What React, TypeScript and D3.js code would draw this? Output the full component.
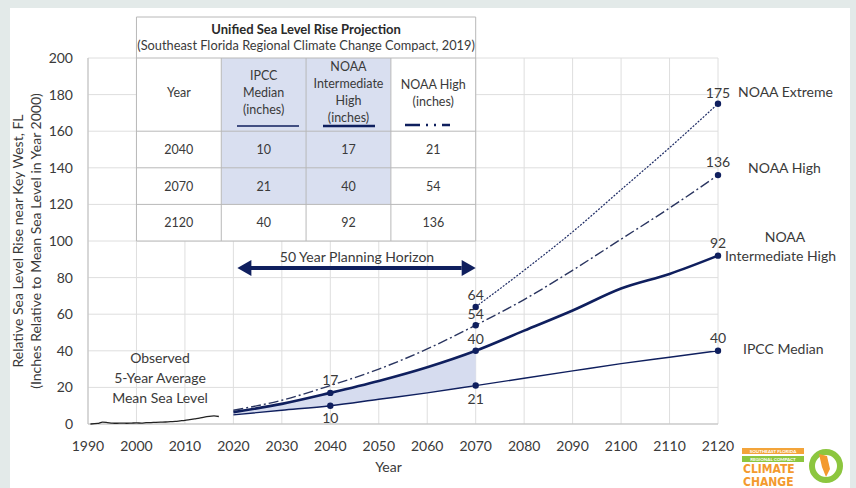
import React from "react";
import * as d3 from "d3";

const years = [2020, 2030, 2040, 2050, 2060, 2070, 2080, 2090, 2100, 2110, 2120];
const ipccMedian = [5, 7.5, 10, 13.5, 17, 21, 25, 29, 33, 36.5, 40];
const noaaIntHigh = [6.5, 11, 17, 23.5, 31, 40, 51, 62, 74, 82, 92];
const noaaHigh = [7.5, 13, 21, 30, 41, 54, 68, 84, 101, 118, 136];
const extremeYears = [2070, 2080, 2090, 2100, 2110, 2120];
const noaaExtreme = [64, 84, 105, 128, 151, 175];

const obsYears = [1990.5, 1992, 1993, 1994, 1995, 1996, 1997, 1998, 1999, 2000, 2001, 2002, 2003, 2004, 2005, 2006, 2007, 2008, 2009, 2010, 2011, 2012, 2013, 2014, 2015, 2016, 2017];
const obsLevel = [0, 0.3, 1.0, 0.8, 0.5, 0.4, 0.5, 0.4, 0.5, 0.6, 0.5, 0.7, 0.8, 0.9, 1.0, 1.1, 1.3, 1.4, 1.7, 2.0, 2.4, 2.8, 3.2, 3.8, 4.2, 4.4, 4.1];

const xTicks = d3.range(1990, 2121, 10);
const yTicks = d3.range(0, 201, 20);

const tableRows = [
  ["2040", "10", "17", "21"],
  ["2070", "21", "40", "54"],
  ["2120", "40", "92", "136"],
];

const NAVY = "#0f1f5e";
const FONT = "Lato, 'Open Sans', sans-serif";
const TXT = "#3a3a3a";

const App = () => {
  const x = d3.scaleLinear().domain([1990, 2120]).range([88, 718]);
  const y = d3.scaleLinear().domain([0, 200]).range([424, 58]);

  const line = d3
    .line<[number, number]>()
    .x((d) => x(d[0]))
    .y((d) => y(d[1]))
    .curve(d3.curveMonotoneX);
  const pair = (xs: number[], vs: number[]) => xs.map((v, i) => [v, vs[i]] as [number, number]);

  const shadeIdx = years.filter((yr) => yr <= 2070).map((_, i) => i);
  const area = d3
    .area<number>()
    .x((i) => x(years[i]))
    .y0((i) => y(ipccMedian[i]))
    .y1((i) => y(noaaIntHigh[i]))
    .curve(d3.curveMonotoneX);

  // table geometry tied to the chart grid
  const colX = [x(2000), x(2017.5), x(2035), x(2052.5), x(2070)];
  const rowY = [17, y(200), y(160), y(140), y(120), y(100)];

  const dot = (yr: number, v: number, key: string) => (
    <circle key={key} cx={x(yr)} cy={y(v)} r={3.2} fill={NAVY} />
  );

  const ix = (yr: number) => years.indexOf(yr);

  return (
    <svg width={856} height={488} style={{ position: "absolute", left: 0, top: 0, fontFamily: FONT }}>
      <rect x={0} y={0} width={856} height={488} fill="#e3eae9" />
      <rect x={10} y={8} width={840} height={480} fill="#ffffff" />

      {/* grid */}
      {xTicks.map((t) => (
        <line key={"gx" + t} x1={x(t)} x2={x(t)} y1={y(200)} y2={y(0)} stroke="#dedede" strokeWidth={1} />
      ))}
      {yTicks.map((t) => (
        <line key={"gy" + t} x1={x(1990)} x2={x(2120)} y1={y(t)} y2={y(t)} stroke="#dedede" strokeWidth={1} />
      ))}
      <line x1={x(1990)} x2={x(1990)} y1={y(200)} y2={y(0)} stroke="#bfbfbf" />
      <line x1={x(1990)} x2={x(2120)} y1={y(0)} y2={y(0)} stroke="#bfbfbf" />

      {/* axis labels */}
      {yTicks.map((t) => (
        <text key={"yl" + t} x={73} y={y(t) + 5} textAnchor="end" fontSize={14} fill={TXT}>
          {t}
        </text>
      ))}
      {xTicks.map((t) => (
        <text key={"xl" + t} x={x(t)} y={451} textAnchor="middle" fontSize={14} fill={TXT}>
          {t}
        </text>
      ))}
      <text x={x(2052)} y={472} textAnchor="middle" fontSize={14} fill={TXT}>
        Year
      </text>
      <text transform={`translate(23,241) rotate(-90)`} textAnchor="middle" fontSize={14} fill={TXT}>
        Relative Sea Level Rise near Key West, FL
      </text>
      <text transform={`translate(41,241) rotate(-90)`} textAnchor="middle" fontSize={14} fill={TXT}>
        (Inches Relative to Mean Sea Level in Year 2000)
      </text>

      {/* table */}
      <g fontSize={12.5} fill={TXT}>
        <rect x={colX[1]} y={rowY[1]} width={colX[3] - colX[1]} height={rowY[4] - rowY[1]} fill="#d9dff0" />
        <rect x={colX[0]} y={rowY[0]} width={colX[4] - colX[0]} height={rowY[1] - rowY[0]} fill="#fff" />
        <rect x={colX[0]} y={rowY[4]} width={colX[4] - colX[0]} height={rowY[5] - rowY[4]} fill="#fff" />
        <rect x={colX[0]} y={rowY[1]} width={colX[1] - colX[0]} height={rowY[4] - rowY[1]} fill="#fff" />
        <rect x={colX[3]} y={rowY[1]} width={colX[4] - colX[3]} height={rowY[4] - rowY[1]} fill="#fff" />
        {rowY.map((ry, i) => (
          <line key={"tr" + i} x1={colX[0]} x2={colX[4]} y1={ry} y2={ry} stroke="#b8b8b8" />
        ))}
        {colX.map((cx, i) => (
          <line
            key={"tc" + i}
            x1={cx}
            x2={cx}
            y1={i === 0 || i === 4 ? rowY[0] : rowY[1]}
            y2={rowY[5]}
            stroke="#b8b8b8"
          />
        ))}
        <text x={(colX[0] + colX[4]) / 2} y={34} textAnchor="middle" fontWeight="bold" fontSize={13} fill="#2a2a2a">
          Unified Sea Level Rise Projection
        </text>
        <text x={(colX[0] + colX[4]) / 2} y={50} textAnchor="middle" fontSize={12.8}>
          (Southeast Florida Regional Climate Change Compact, 2019)
        </text>
        <text x={(colX[0] + colX[1]) / 2} y={97} textAnchor="middle">Year</text>
        {["IPCC", "Median", "(inches)"].map((s, i) => (
          <text key={"h1" + i} x={(colX[1] + colX[2]) / 2} y={80 + i * 17} textAnchor="middle">{s}</text>
        ))}
        {["NOAA", "Intermediate", "High", "(inches)"].map((s, i) => (
          <text key={"h2" + i} x={(colX[2] + colX[3]) / 2} y={71 + i * 17} textAnchor="middle">{s}</text>
        ))}
        {["NOAA High", "(inches)"].map((s, i) => (
          <text key={"h3" + i} x={(colX[3] + colX[4]) / 2} y={89 + i * 17} textAnchor="middle">{s}</text>
        ))}
        <line x1={237} x2={299} y1={126} y2={126} stroke={NAVY} strokeWidth={1.3} />
        <line x1={323} x2={375} y1={126} y2={126} stroke={NAVY} strokeWidth={2.6} />
        <line x1={405} x2={463} y1={125} y2={125} stroke={NAVY} strokeWidth={2.4} strokeDasharray="15 6 2 6 2 6 8" />
        {tableRows.map((r, ri) =>
          r.map((c, ci) => (
            <text
              key={"c" + ri + ci}
              x={(colX[ci] + colX[ci + 1]) / 2}
              y={(rowY[ri + 2] + rowY[ri + 3]) / 2 + 4.5}
              textAnchor="middle"
            >
              {c}
            </text>
          ))
        )}
      </g>

      {/* planning horizon arrow */}
      <line x1={x(2020) + 14} x2={x(2070) - 14} y1={268} y2={268} stroke={NAVY} strokeWidth={4} />
      <path d={`M ${x(2020) + 4} 268 L ${x(2020) + 18} 260 L ${x(2020) + 18} 276 Z`} fill={NAVY} />
      <path d={`M ${x(2070)} 268 L ${x(2070) - 14} 260 L ${x(2070) - 14} 276 Z`} fill={NAVY} />
      <text x={357} y={262} textAnchor="middle" fontSize={14} fill={TXT}>
        50 Year Planning Horizon
      </text>

      {/* projections */}
      <path d={area(shadeIdx) || ""} fill="#d6dcef" />
      <path d={line(pair(obsYears, obsLevel)) || ""} fill="none" stroke="#222" strokeWidth={1.3} />
      <path d={line(pair(years, ipccMedian)) || ""} fill="none" stroke={NAVY} strokeWidth={1.4} />
      <path d={line(pair(years, noaaIntHigh)) || ""} fill="none" stroke={NAVY} strokeWidth={2.6} />
      <path d={line(pair(years, noaaHigh)) || ""} fill="none" stroke="#2a3560" strokeWidth={1.4} strokeDasharray="10 3 2 3" />
      <path d={line(pair(extremeYears, noaaExtreme)) || ""} fill="none" stroke="#1f2d66" strokeWidth={1.2} strokeDasharray="2 1.4" />

      {dot(2040, ipccMedian[ix(2040)], "d1")}
      {dot(2040, noaaIntHigh[ix(2040)], "d2")}
      {dot(2070, ipccMedian[ix(2070)], "d3")}
      {dot(2070, noaaIntHigh[ix(2070)], "d4")}
      {dot(2070, noaaHigh[ix(2070)], "d5")}
      {dot(2070, noaaExtreme[0], "d6")}
      {dot(2120, ipccMedian[ix(2120)], "d7")}
      {dot(2120, noaaIntHigh[ix(2120)], "d8")}
      {dot(2120, noaaHigh[ix(2120)], "d9")}
      {dot(2120, noaaExtreme[noaaExtreme.length - 1], "d10")}

      {/* value labels */}
      <g fontSize={14} fill={TXT} textAnchor="middle">
        <text x={x(2040)} y={y(noaaIntHigh[ix(2040)]) - 8}>{noaaIntHigh[ix(2040)]}</text>
        <text x={x(2040)} y={y(ipccMedian[ix(2040)]) + 17}>{ipccMedian[ix(2040)]}</text>
        <text x={x(2070)} y={y(noaaExtreme[0]) - 7}>{noaaExtreme[0]}</text>
        <text x={x(2070)} y={y(noaaHigh[ix(2070)]) - 6}>{noaaHigh[ix(2070)]}</text>
        <text x={x(2070)} y={y(noaaIntHigh[ix(2070)]) - 7}>{noaaIntHigh[ix(2070)]}</text>
        <text x={x(2070)} y={y(ipccMedian[ix(2070)]) + 18}>{ipccMedian[ix(2070)]}</text>
        <text x={x(2120)} y={y(175) - 6}>175</text>
        <text x={x(2120)} y={y(136) - 8}>136</text>
        <text x={x(2120)} y={y(92) - 8}>92</text>
        <text x={x(2120)} y={y(40) - 8}>40</text>
      </g>
      <g fontSize={14} fill={TXT}>
        <text x={738} y={97}>NOAA Extreme</text>
        <text x={748} y={173}>NOAA High</text>
        <text x={785} y={242} textAnchor="middle">NOAA</text>
        <text x={725} y={261}>Intermediate High</text>
        <text x={743} y={354}>IPCC Median</text>
        <text x={160} y={363} textAnchor="middle">Observed</text>
        <text x={160} y={383} textAnchor="middle">5-Year Average</text>
        <text x={160} y={403} textAnchor="middle">Mean Sea Level</text>
      </g>

      {/* logo */}
      <g>
        <rect x={742} y={448} width={62} height={6} fill="#f3a43a" />
        <text x={773} y={453} textAnchor="middle" fontSize={4.5} fill="#fff" fontWeight="bold">SOUTHEAST FLORIDA</text>
        <rect x={742} y={456} width={62} height={6} fill="#8cc63f" />
        <text x={773} y={461} textAnchor="middle" fontSize={4.5} fill="#fff" fontWeight="bold">REGIONAL COMPACT</text>
        <text x={743} y={473} fontSize={12} fontWeight="900" fill="#f39a2e" fontFamily="'DejaVu Sans Condensed', sans-serif">CLIMATE</text>
        <text x={743} y={486} fontSize={12} fontWeight="900" fill="#f39a2e" fontFamily="'DejaVu Sans Condensed', sans-serif">CHANGE</text>
        <circle cx={826} cy={466} r={14} fill="none" stroke="#8cc63f" strokeWidth={6} />
        <path d="M 819 454 L 827 456 L 830 469 L 826 477 L 822 467 Z" fill="#f39a2e" />
      </g>
    </svg>
  );
};

export default App;
